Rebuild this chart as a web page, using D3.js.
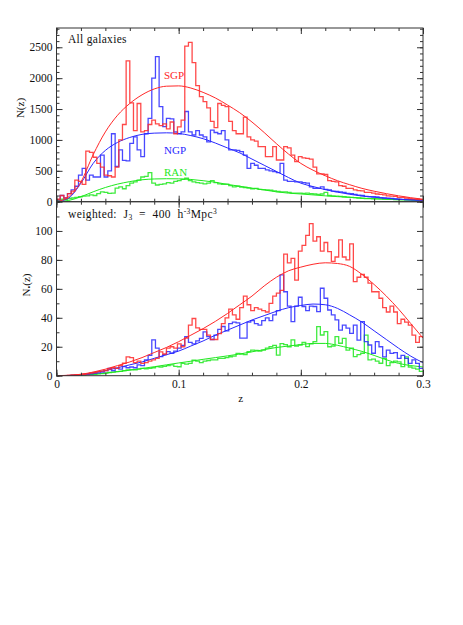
<!DOCTYPE html>
<html>
<head>
<meta charset="utf-8">
<script src="https://cdn.jsdelivr.net/npm/d3@7"></script>
<style>
  body { margin: 0; background: #fff; }
  text { font-family: "Liberation Serif", "DejaVu Serif", serif; fill: #111; }
</style>
</head>
<body>
<div id="chart"></div>
<script>
// histogram bins: width in z, bins start at z = 0
const binWidth = 0.003;

// top panel: all galaxies, N(z)
const allSGP = [40,100,60,130,170,350,330,280,820,800,
  720,620,560,430,420,400,560,1000,1250,2280,
  1600,1150,1590,1130,1150,1250,1320,1260,1230,1260,
  1180,1290,1100,1210,1320,2520,2580,2250,1880,1700,
  1620,1520,1300,1200,1590,1560,1540,1300,1150,1100,
  1100,1370,1050,1000,980,890,890,730,730,890,
  675,675,890,870,755,650,730,710,700,690,
  560,450,450,440,340,330,320,260,250,216,
  216,190,180,175,150,150,140,125,120,110,
  95,90,85,70,70,60,50,45,40,35];
const allNGP = [30,100,60,130,190,250,430,540,350,430,
  400,400,755,400,500,1100,570,840,670,660,
  945,1050,840,730,1100,1350,2000,2350,1540,1215,
  1350,1340,1130,1100,1130,1460,1130,1080,1150,1080,
  1050,970,1160,1120,1100,1150,1000,840,840,830,
  810,755,540,620,590,540,540,515,500,486,
  470,620,350,330,330,320,320,310,300,240,
  216,216,240,200,190,170,165,160,150,135,
  130,120,108,100,85,81,80,78,65,60,
  58,55,45,40,38,36,35,33,30,28];
const allRAN = [20,40,35,50,60,70,80,90,95,110,
  100,130,160,150,135,140,220,240,210,260,
  300,320,350,400,410,470,300,270,280,290,
  310,300,330,340,360,380,340,320,310,300,
  290,300,340,310,290,280,285,260,240,250,
  235,230,220,210,215,200,195,190,185,175,
  165,160,160,150,140,140,140,135,140,130,
  125,120,125,150,100,95,90,85,80,75,
  70,65,60,55,50,50,48,45,45,42,
  40,38,36,35,33,30,28,26,24,22];

// bottom panel: J3-weighted counts
const wSGP = [0,0,0.1,0.2,0.3,0.5,0.7,1.0,1.3,1.8,
  2.2,2.8,3.2,3.6,4.5,5.5,5,7,8.6,13,
  12.5,9,10,8.5,9,10,11,12,16.5,15,
  19,20,19,22,20,26,35,39.5,33,32,
  32,28,25,25,29,36,40,46,42,39,
  47,55,49,45,47,46,45,44,50,55,
  57,59,84,78,81,66,86,90,97,105,
  93,96,86,92,85.7,79,82,93.8,82,80,
  91,65,68,70,68,64,58,58,53.5,47,
  44,48,44,36,39,37,35,28,23,27];
const wNGP = [0,0,0,0.1,0.2,0.3,0.5,0.7,1.0,1.3,
  1.6,2.0,2.5,3.5,5,3.5,5,4.5,6.3,5.5,
  6,5.5,7.5,7,11,14,24.7,19,13.2,14.5,
  16.6,15.5,17,19,21,27,23,22,24,25.8,
  30.3,27,25,28,32,34,31,36,37,36.5,
  26,26,37,38,36,35,38,40,38,42,
  45,69.6,58,48,37.3,48,54.2,47.8,45,48,
  47.8,44.2,60.4,53.5,45.4,42,38.5,31.5,35,32.8,
  29.3,35,24.6,37.4,23.5,21.2,15.5,23.5,20,13,
  17.7,15.4,16,12,14,12,8.5,11,8.5,5];
const wRAN = [0,0,0,0.1,0.2,0.3,0.4,0.5,0.7,0.9,
  1.0,1.2,1.5,1.8,2.2,2.5,2.8,3,3.5,4,
  4.2,4,4.5,5,4.8,5,5.5,6.3,6,6.5,
  7,7.5,6.5,6.2,8.5,8,8.5,10.8,10,9,
  10,10.5,11,11,12,12,12.5,13.1,13.5,15.4,
  15,14.5,16.6,17.7,17.5,17,17.7,19,20,20.9,
  14.2,22.2,21.5,20,24.7,20.5,21.2,23,20.1,22,
  23.5,33.9,28.1,30.4,20,20.5,27,22.4,25.8,17.7,
  19,13.2,14.5,15.5,28,10.9,11.5,10,8.6,12,
  7,9,10,9.5,6.3,13,6,5.2,4.5,3];

// smooth model curves, sampled at these redshifts
const curveZ = [0,0.01,0.02,0.03,0.04,0.05,0.06,0.07,0.08,0.09,0.10,
  0.11,0.12,0.13,0.14,0.15,0.16,0.17,0.18,0.19,0.20,
  0.21,0.22,0.23,0.24,0.25,0.26,0.27,0.28,0.29,0.30];
const allSGPFit = [0,80,320,760,1130,1400,1590,1730,1825,1870,1875,
  1840,1770,1680,1565,1440,1290,1120,940,770,620,
  510,420,340,275,216,170,130,95,65,40];
const allNGPFit = [0,60,300,620,830,960,1040,1090,1110,1115,1105,
  1070,1020,950,870,790,690,590,490,390,300,
  245,195,155,120,92,72,55,40,28,20];
const allRANFit = [0,20,80,160,230,285,325,355,368,372,370,
  360,340,315,280,250,220,190,160,138,125,
  110,95,82,70,58,48,40,32,26,20];
const wSGPFit = [0,0.3,1,2.5,4.5,7,9.5,12.5,16,19.5,23.5,
  28,32.5,37.5,43,49,55,62,68,72.5,75,
  77,78,77.5,75.5,70,63,55,46,36,26];
const wNGPFit = [0,0.2,0.8,2,3.5,5.5,7.5,9.5,12,14.5,17,
  20.5,24,28,31.5,35,38.5,41.5,44.5,47,48.5,
  49.5,49,46.5,42,37,31,25,19,13.5,9];
const wRANFit = [0,0.1,0.4,1,1.8,2.8,3.8,5,6.2,7.5,8.8,
  10,11.3,12.5,13.7,15,16.5,18,19.5,20.5,21.5,
  22.3,22.3,21,19,16.8,14,11,8.5,7,6];

const xTicks = [0, 0.1, 0.2, 0.3];
const topYTicks = [0, 500, 1000, 1500, 2000, 2500];
const botYTicks = [0, 20, 40, 60, 80, 100];

const colors = { SGP: "#ff2828", NGP: "#2828ff", RAN: "#1ee81e" };

const width = 463, height = 625;
const left = 56.5, right = 423;

const svg = d3.select("#chart").append("svg")
  .attr("width", width)
  .attr("height", height);

const x = d3.scaleLinear().domain([0, 0.3]).range([left, right]);

const panels = [
  { id: "top", top: 28, bottom: 201.7, max: 2812, ticks: topYTicks, minorStep: 100,
    hist: { SGP: allSGP, NGP: allNGP, RAN: allRAN },
    fit: { SGP: allSGPFit, NGP: allNGPFit, RAN: allRANFit },
    xLabels: false },
  { id: "bot", top: 201.7, bottom: 375.7, max: 120.2, ticks: botYTicks, minorStep: 10,
    hist: { SGP: wSGP, NGP: wNGP, RAN: wRAN },
    fit: { SGP: wSGPFit, NGP: wNGPFit, RAN: wRANFit },
    xLabels: true }
];

panels.forEach(p => {
  const y = d3.scaleLinear().domain([0, p.max]).range([p.bottom, p.top]);
  const g = svg.append("g");

  g.append("clipPath").attr("id", "clip-" + p.id)
    .append("rect")
    .attr("x", left).attr("y", p.top)
    .attr("width", right - left).attr("height", p.bottom - p.top);

  const plot = g.append("g").attr("clip-path", "url(#clip-" + p.id + ")");

  const stepLine = d3.line()
    .x(d => x(d[0]))
    .y(d => y(d[1]))
    .curve(d3.curveStepAfter);

  const smoothLine = d3.line()
    .x((d, i) => x(curveZ[i]))
    .y(d => y(d))
    .curve(d3.curveMonotoneX);

  ["RAN", "NGP", "SGP"].forEach(key => {
    const vals = p.hist[key];
    const pts = vals.map((v, i) => [i * binWidth, v]);
    pts.push([vals.length * binWidth, vals[vals.length - 1]]);

    plot.append("path")
      .attr("d", stepLine(pts))
      .attr("fill", "none")
      .attr("stroke", colors[key])
      .attr("stroke-width", 1.3)
      .attr("stroke-opacity", 0.85);

    plot.append("path")
      .attr("d", smoothLine(p.fit[key]))
      .attr("fill", "none")
      .attr("stroke", colors[key])
      .attr("stroke-width", 1);
  });

  // axes: major and minor ticks pointing inwards
  const minorY = d3.range(0, p.max, p.minorStep);
  const minorX = d3.range(0, 0.3001, 0.02);

  g.append("g").attr("transform", `translate(${left},0)`)
    .call(d3.axisLeft(y).tickValues(p.ticks).tickSize(-6).tickPadding(4).tickFormat(d3.format("d")));
  g.append("g").attr("transform", `translate(${left},0)`)
    .call(d3.axisLeft(y).tickValues(minorY).tickSize(-3).tickFormat(""));
  g.append("g").attr("transform", `translate(${right},0)`)
    .call(d3.axisRight(y).tickValues(p.ticks).tickSize(-6).tickFormat(""));
  g.append("g").attr("transform", `translate(${right},0)`)
    .call(d3.axisRight(y).tickValues(minorY).tickSize(-3).tickFormat(""));

  g.append("g").attr("transform", `translate(0,${p.top})`)
    .call(d3.axisTop(x).tickValues(xTicks).tickSize(-6).tickFormat(""));
  g.append("g").attr("transform", `translate(0,${p.top})`)
    .call(d3.axisTop(x).tickValues(minorX).tickSize(-3).tickFormat(""));

  const bx = d3.axisBottom(x).tickValues(xTicks).tickSize(-6).tickPadding(4);
  if (p.xLabels) bx.tickFormat(d => d === 0 ? "0" : d3.format(".1f")(d));
  else bx.tickFormat("");
  g.append("g").attr("transform", `translate(0,${p.bottom})`).call(bx);
  g.append("g").attr("transform", `translate(0,${p.bottom})`)
    .call(d3.axisBottom(x).tickValues(minorX).tickSize(-3).tickFormat(""));

  g.append("rect")
    .attr("x", left).attr("y", p.top)
    .attr("width", right - left).attr("height", p.bottom - p.top)
    .attr("fill", "none")
    .attr("stroke", "#333")
    .attr("stroke-width", 1);
});

svg.selectAll(".domain").remove();
svg.selectAll(".tick line").attr("stroke", "#333");
svg.selectAll(".tick text")
  .style("font-family", '"Liberation Serif", serif')
  .style("font-size", "11.5px")
  .attr("fill", "#111");

// axis titles
svg.append("text")
  .attr("transform", "translate(24,108) rotate(-90)")
  .attr("text-anchor", "middle")
  .style("font-size", "11px")
  .text("N(z)");

const wl = svg.append("text")
  .attr("transform", "translate(30,285) rotate(-90)")
  .attr("text-anchor", "middle")
  .style("font-size", "11px");
wl.append("tspan").text("N");
wl.append("tspan").attr("baseline-shift", "-30%").style("font-size", "8px").text("•");
wl.append("tspan").text("(z)");

svg.append("text")
  .attr("x", x(0.15) + 1).attr("y", 402)
  .attr("text-anchor", "middle")
  .style("font-size", "11px")
  .text("z");

// panel annotations
svg.append("text")
  .attr("x", 68).attr("y", 43)
  .style("font-size", "11.5px")
  .style("letter-spacing", "0.3px")
  .text("All galaxies");

const wt = svg.append("text")
  .attr("x", 68).attr("y", 218)
  .style("font-size", "11.5px")
  .style("letter-spacing", "0.4px")
  .style("white-space", "pre");
wt.append("tspan").text("weighted:  J");
wt.append("tspan").attr("baseline-shift", "-30%").style("font-size", "7.5px").text("3");
wt.append("tspan").text("  =  400  h");
wt.append("tspan").attr("baseline-shift", "45%").style("font-size", "7.5px").text("-3");
wt.append("tspan").text("Mpc");
wt.append("tspan").attr("baseline-shift", "45%").style("font-size", "7.5px").text("3");

const seriesLabels = [
  { text: "SGP", key: "SGP", y: 79 },
  { text: "NGP", key: "NGP", y: 154 },
  { text: "RAN", key: "RAN", y: 176 }
];
svg.selectAll(".slabel").data(seriesLabels).enter().append("text")
  .attr("class", "slabel")
  .attr("x", 164).attr("y", d => d.y)
  .style("font-size", "11px")
  .style("fill", d => colors[d.key])
  .text(d => d.text);
</script>
</body>
</html>
